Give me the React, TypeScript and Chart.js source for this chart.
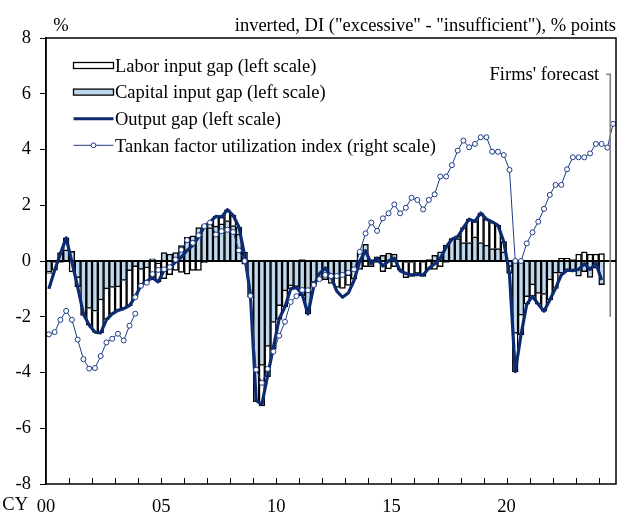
import React, { useEffect, useRef } from 'react';
import { Chart, registerables } from 'chart.js';

Chart.register(...registerables);

// ---------- data ----------
const FIRST_YEAR = 2000;
const LAST_YEAR = 2024;
const LAST_QUARTER = 3; // 2024Q3 (Tankan firms' forecast)
const QUARTERS: string[] = [];
for (let y = FIRST_YEAR; y <= LAST_YEAR; y++) {
  for (let q = 1; q <= 4; q++) {
    if (y === LAST_YEAR && q > LAST_QUARTER) break;
    QUARTERS.push(`${y}Q${q}`);
  }
}

const tickYears = [2000, 2005, 2010, 2015, 2020];
const tickLabels = ['00', '05', '10', '15', '20'];
const yTicks = [-8, -6, -4, -2, 0, 2, 4, 6, 8];

// 2000Q1 - 2024Q1
const capitalGap = [
  -0.4, -0.05, 0.3, 0.4, 0.35, -0.6, -1.9, -1.7, -1.8, -1.4,
  -1.0, -0.95, -0.93, -0.7, -0.35, -0.2, -0.3, -0.25, 0.08, -0.1,
  0.3, 0.25, 0.3, 0.55, 0.85, 0.9, 1.2, 1.3, 1.2, 1.25,
  1.33, 1.45, 1.27, 0.97, 0.31, -1.25, -3.9, -3.75, -3.06, -2.2,
  -1.6, -1.07, -0.89, -0.92, -1.25, -1.75, -0.77, -0.6, -0.47, -0.5,
  -0.55, -0.53, -0.53, -0.35, -0.3, 0.6, 0.05, 0.15, 0.2, 0.28,
  0.25, 0.0, -0.05, -0.05, 0.0, -0.05, 0.05, 0.2, 0.33, 0.57,
  0.8, 0.8, 0.66, 0.66, 0.87, 0.66, 0.57, 0.45, 0.45, 0.33,
  -0.2, -2.6, -1.94, -1.28, -0.86, -1.16, -1.2, -0.68, -0.44, -0.44,
  -0.32, -0.32, -0.54, -0.38, -0.59, -0.26, -0.85,
];

const laborGap = [
  -0.05, -0.28, -0.05, 0.43, -0.39, -0.33, -0.05, -0.6, -0.75, -1.18,
  -1.1, -0.95, -0.84, -1.0, -1.25, -1.09, -0.57, -0.47, -0.68, -0.65,
  -0.63, -0.49, -0.34, -0.41, -0.47, -0.34, -0.34, -0.06, 0.2, 0.35,
  0.25, 0.39, 0.37, 0.25, -0.11, -0.05, -1.15, -1.45, -1.1, -0.95,
  -0.5, -0.58, -0.11, -0.03, 0.05, -0.15, -0.13, -0.1, -0.2, -0.3,
  -0.4, -0.45, -0.35, -0.3, 0.3, -0.2, -0.2, -0.05, -0.38, -0.28,
  -0.2, -0.33, -0.55, -0.5, -0.45, -0.5, -0.3, -0.3, -0.2, -0.05,
  0.0, 0.1, 0.54, 0.84, 0.55, 1.06, 0.93, 0.95, 0.83, 0.37,
  -0.25, -1.37, -0.7, -0.27, -0.41, -0.39, -0.6, -0.72, -0.54, 0.1,
  0.1, 0.05, 0.25, 0.33, 0.25, 0.25, 0.27,
];

const outputGap = [
  -1.0, -0.33, 0.26, 0.83, -0.04, -0.93, -1.9, -2.3, -2.55, -2.58,
  -2.1, -1.9, -1.77, -1.71, -1.6, -1.29, -0.87, -0.72, -0.6, -0.75,
  -0.33, -0.24, -0.04, 0.14, 0.38, 0.56, 0.86, 1.24, 1.4, 1.6,
  1.58, 1.84, 1.64, 1.22, 0.2, -1.2, -5.0, -5.15, -4.1, -3.1,
  -2.07, -1.65, -1.0, -0.95, -1.2, -1.9, -0.9, -0.45, -0.25, -0.56,
  -1.08, -1.3, -1.15, -0.7, 0.0, 0.37, -0.1, 0.1, -0.18, 0.0,
  0.1, -0.35, -0.45, -0.5, -0.48, -0.5, -0.26, -0.1, 0.1, 0.5,
  0.78, 0.87, 1.2, 1.5, 1.42, 1.72, 1.5, 1.4, 1.28, 0.7,
  -0.45, -3.97, -2.65, -1.55, -1.27, -1.55, -1.8, -1.4, -0.98, -0.5,
  -0.33, -0.35, -0.3, -0.1, -0.3, -0.08, -0.68,
];

// Tankan, old survey basis: 2000Q1 - 2003Q4
const tankanOld = [
  -2.63, -2.55, -2.11, -1.79, -2.11, -2.82, -3.52, -3.86, -3.84, -3.41,
  -2.92, -2.79, -2.61, -2.85, -2.32, -1.89,
];
const TANKAN_NEW_START = 15; // 2003Q4
// Tankan, new survey basis: 2003Q4 - 2024Q3 (last value = firms' forecast)
const tankanNew = [
  -1.3, -0.89, -0.78, -0.47, -0.32, -0.3, -0.22, 0.05, 0.4, 0.75,
  0.65, 0.92, 1.25, 1.38, 0.95, 1.07, 1.12, 1.04, 0.38, 0.0,
  -1.25, -3.9, -4.37, -3.87, -3.25, -2.68, -2.18, -1.47, -1.26, -1.04,
  -1.05, -0.86, -0.65, -0.5, -0.54, -0.54, -0.5, -0.42, -0.3, 0.33,
  0.99, 1.38, 1.08, 1.53, 1.71, 2.03, 1.71, 1.91, 2.27, 2.19,
  1.85, 2.19, 2.39, 3.03, 3.03, 3.44, 3.96, 4.32, 4.08, 4.2,
  4.44, 4.44, 3.92, 3.92, 3.8, 3.27, 0.0, 0.0, 0.63, 1.03,
  1.41, 1.87, 2.37, 2.73, 2.73, 3.29, 3.72, 3.72, 3.72, 3.86,
  4.2, 4.2, 4.07, 4.92,
];

const FORECAST_TOP = 6.7;
const FORECAST_BOTTOM = -2.0;

// ---------- styles ----------
const FONT = '"Liberation Serif", "Times New Roman", Times, serif';
const FS = 18.5;
const NAVY = '#0b2a6f';
const TANKAN = '#1d3b86';
const LIGHT_BLUE = 'rgb(190,216,238)';
const BAR_EDGE = '#000000';

const LABELS = [
  'Labor input gap (left scale)',
  'Capital input gap (left scale)',
  'Output gap (left scale)',
  'Tankan factor utilization index (right scale)',
];

function pad(arr: number[], start: number): (number | null)[] {
  return QUARTERS.map((_, i) => (i >= start && i - start < arr.length ? arr[i - start] : null));
}

const decor = {
  id: 'decor',
  afterDatasetDraw(chart: any, args: any) {
    if (args.index !== 1) return; // after capital bars: zero line
    const { ctx, chartArea: a, scales } = chart;
    const y0 = scales.y.getPixelForValue(0);
    ctx.save();
    ctx.strokeStyle = '#000';
    ctx.lineWidth = 2;
    ctx.beginPath();
    ctx.moveTo(a.left, y0);
    ctx.lineTo(a.right, y0);
    ctx.stroke();
    ctx.restore();
  },
  afterDraw(chart: any) {
    const { ctx, chartArea: a, scales } = chart;
    const xs = scales.x;
    const ys = scales.y;
    const slot = xs.getPixelForValue(1) - xs.getPixelForValue(0);
    ctx.save();
    // frame
    ctx.strokeStyle = '#000';
    ctx.lineWidth = 1.5;
    ctx.strokeRect(a.left, a.top, a.right - a.left, a.bottom - a.top);
    // inner year ticks on the x axis
    ctx.lineWidth = 1;
    for (let i = 4; i < QUARTERS.length; i += 4) {
      const x = Math.round(xs.getPixelForValue(i) - slot / 2) + 0.5;
      ctx.beginPath();
      ctx.moveTo(x, a.bottom);
      ctx.lineTo(x, a.bottom - 6);
      ctx.stroke();
    }
    // texts
    ctx.fillStyle = '#000';
    ctx.font = `${FS}px ${FONT}`;
    ctx.textBaseline = 'alphabetic';
    ctx.textAlign = 'center';
    ctx.fillText('%', 61, 31);
    ctx.textAlign = 'right';
    ctx.fillText('inverted, DI ("excessive" - "insufficient"), % points', 616, 31);
    ctx.fillText('CY', 28, 510);
    // firms' forecast bracket
    const bx = xs.getPixelForValue(QUARTERS.length - 1) - slot / 2;
    const by0 = ys.getPixelForValue(FORECAST_TOP);
    const by1 = ys.getPixelForValue(FORECAST_BOTTOM);
    ctx.fillText("Firms' forecast", bx - 11, 80);
    ctx.strokeStyle = '#808080';
    ctx.lineWidth = 1.6;
    ctx.beginPath();
    ctx.moveTo(bx - 4, by0);
    ctx.lineTo(bx, by0);
    ctx.lineTo(bx, by1);
    ctx.stroke();
    // legend
    const lx0 = 73.5;
    const lx1 = 113.5;
    const rows = [65.5, 92.1, 118.7, 145.3];
    ctx.strokeStyle = BAR_EDGE;
    ctx.lineWidth = 1.3;
    ctx.fillStyle = '#fff';
    ctx.fillRect(lx0, rows[0] - 3, lx1 - lx0, 6);
    ctx.strokeRect(lx0, rows[0] - 3, lx1 - lx0, 6);
    ctx.fillStyle = LIGHT_BLUE;
    ctx.fillRect(lx0, rows[1] - 3, lx1 - lx0, 6);
    ctx.strokeRect(lx0, rows[1] - 3, lx1 - lx0, 6);
    ctx.strokeStyle = NAVY;
    ctx.lineWidth = 3;
    ctx.beginPath();
    ctx.moveTo(lx0, rows[2]);
    ctx.lineTo(lx1, rows[2]);
    ctx.stroke();
    ctx.strokeStyle = TANKAN;
    ctx.lineWidth = 1;
    ctx.beginPath();
    ctx.moveTo(lx0, rows[3]);
    ctx.lineTo(lx1, rows[3]);
    ctx.stroke();
    ctx.fillStyle = '#fff';
    ctx.beginPath();
    ctx.arc((lx0 + lx1) / 2, rows[3], 2.4, 0, Math.PI * 2);
    ctx.fill();
    ctx.stroke();
    ctx.fillStyle = '#000';
    ctx.textAlign = 'left';
    LABELS.forEach((t, k) => ctx.fillText(t, 115, rows[k] + 6.3));
    ctx.restore();
  },
};

export default function App() {
  const ref = useRef<HTMLCanvasElement | null>(null);

  useEffect(() => {
    if (!ref.current) return;
    Chart.defaults.font.family = FONT;
    Chart.defaults.font.size = FS;
    Chart.defaults.color = '#000';

    const barCommon = {
      type: 'bar',
      borderColor: BAR_EDGE,
      borderWidth: 1.5,
      barPercentage: 1,
      categoryPercentage: 1,
      yAxisID: 'y',
    };
    const tankanCommon = {
      type: 'line',
      borderColor: TANKAN,
      borderWidth: 1,
      pointRadius: 2.5,
      pointBorderWidth: 1,
      pointBackgroundColor: '#ffffff',
      pointBorderColor: TANKAN,
      tension: 0,
      order: 0,
      yAxisID: 'y2',
    };

    const chart = new Chart(ref.current, {
      type: 'bar',
      data: {
        labels: QUARTERS,
        datasets: [
          { ...barCommon, label: LABELS[0], data: pad(laborGap, 0), backgroundColor: '#ffffff', order: 3 },
          { ...barCommon, label: LABELS[1], data: pad(capitalGap, 0), backgroundColor: LIGHT_BLUE, order: 2 },
          {
            type: 'line',
            label: LABELS[2],
            data: pad(outputGap, 0),
            borderColor: NAVY,
            borderWidth: 3.2,
            pointRadius: 0,
            tension: 0,
            borderJoinStyle: 'round',
            order: 1,
            stack: 'og',
            yAxisID: 'y',
          },
          { ...tankanCommon, label: LABELS[3], data: pad(tankanNew, TANKAN_NEW_START) },
          { ...tankanCommon, label: 'Tankan (old basis)', data: pad(tankanOld, 0) },
        ],
      } as any,
      options: {
        responsive: false,
        animation: false,
        devicePixelRatio: 1,
        layout: { padding: { top: 38, right: 1, left: 0, bottom: 0 } },
        plugins: {
          legend: { display: false },
          tooltip: { enabled: false },
        },
        scales: {
          x: {
            stacked: true,
            offset: true,
            grid: { display: false, drawTicks: false },
            border: { display: false },
            ticks: {
              autoSkip: false,
              maxRotation: 0,
              minRotation: 0,
              padding: 12,
              labelOffset: -2.9,
              callback: (_v: any, index: number) => {
                const lab = QUARTERS[index];
                if (!lab || !lab.endsWith('Q1')) return null;
                const k = tickYears.indexOf(Number(lab.slice(0, 4)));
                return k >= 0 ? tickLabels[k] : null;
              },
            },
            afterFit: (s: any) => {
              s.height = 30;
            },
          },
          y: {
            stacked: true,
            min: -8,
            max: 8,
            afterBuildTicks: (s: any) => {
              s.ticks = yTicks.map((v) => ({ value: v }));
            },
            grid: {
              drawOnChartArea: false,
              drawTicks: true,
              tickLength: 6,
              color: '#000',
              lineWidth: 1,
            },
            border: { display: true, color: '#000', width: 1.5 },
            ticks: { padding: 9 },
            afterFit: (s: any) => {
              s.width = 46;
            },
          },
          y2: {
            position: 'right',
            min: -8,
            max: 8,
            display: false,
          },
        },
      } as any,
      plugins: [decor],
    });
    return () => chart.destroy();
  }, []);

  return (
    <div style={{ position: 'fixed', left: 0, top: 0, width: 621, height: 514, background: '#fff' }}>
      <canvas ref={ref} width={621} height={514} style={{ display: 'block' }} />
    </div>
  );
}
